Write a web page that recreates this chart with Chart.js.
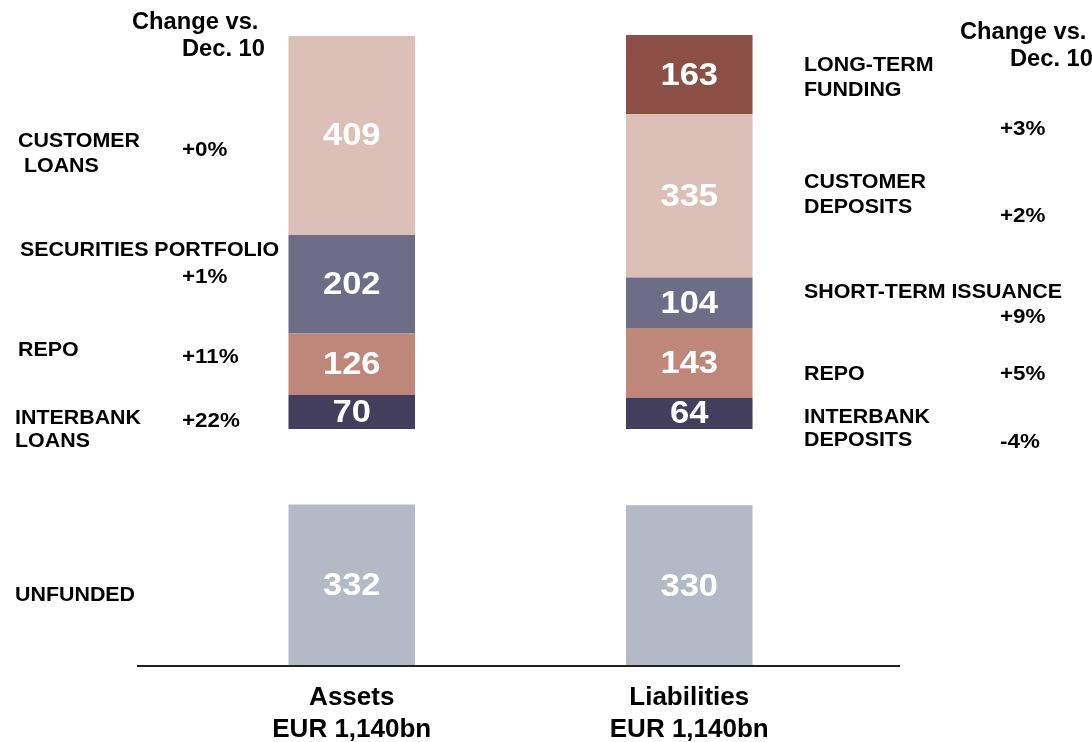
<!DOCTYPE html>
<html>
<head>
<meta charset="utf-8">
<script src="https://cdn.jsdelivr.net/npm/chart.js@4/dist/chart.umd.min.js"></script>
<style>
  html, body { margin: 0; padding: 0; background: #ffffff; overflow: hidden; }
  #wrap { width: 1092px; height: 762px; position: relative; }
</style>
</head>
<body>
<div id="wrap"><canvas id="c"></canvas></div>
<script>
// ---- data ----
const categories = ['Assets', 'Liabilities'];
const categoryTotals = ['EUR 1,140bn', 'EUR 1,140bn'];
const unfunded = [332, 330];
const interbank = [70, 64];
const repo = [126, 143];
const securitiesShortTerm = [202, 104];
const customer = [409, 335];
const longTermFunding = [null, 163];

const assetLabels = ['CUSTOMER\n LOANS', 'SECURITIES PORTFOLIO', 'REPO', 'INTERBANK\nLOANS', 'UNFUNDED'];
const assetChanges = ['+0%', '+1%', '+11%', '+22%'];
const liabilityLabels = ['LONG-TERM\nFUNDING', 'CUSTOMER\nDEPOSITS', 'SHORT-TERM ISSUANCE', 'REPO', 'INTERBANK\nDEPOSITS'];
const liabilityChanges = ['+3%', '+2%', '+9%', '+5%', '-4%'];
const changeHeader = 'Change vs.\nDec. 10';

// value (in data units) where the funded stack starts, above the unfunded bar
const FUNDED_BASE = 487;
const spacer = unfunded.map(v => FUNDED_BASE - v);

// ---- styling / layout (kept separate from data) ----
const COLORS = {
  unfunded: '#b3bac5',
  interbank: '#423e5c',
  repo: '#bf877a',
  securities: '#6e6d88',
  customer: '#dcc0b7',
  longTerm: '#8b4f45'
};
const FONT = '"Liberation Sans", Arial, Helvetica, sans-serif';

const textLayout = {
  assetLabels: [[18, 141, 166], [20, 250], [18, 350], [15, 418, 441], [15, 595]],
  assetChanges: [[182, 150], [182, 277], [182, 357], [182, 421]],
  liabilityLabels: [[804, 65, 90], [804, 182, 207], [804, 292], [804, 374], [804, 417, 440]],
  liabilityChanges: [[1000, 129], [1000, 216], [1000, 317], [1000, 374], [1000, 442]],
  headerLeft: [[132, 23], [182, 50]],
  headerRight: [[960, 33], [1010, 60]]
};

function drawText(ctx, txt, x, y, size, sx) {
  ctx.save();
  ctx.font = 'bold ' + size + 'px ' + FONT;
  ctx.fillStyle = '#000';
  ctx.textAlign = 'left';
  ctx.textBaseline = 'middle';
  ctx.translate(x, y);
  ctx.scale(sx, 1);
  ctx.fillText(txt, 0, 0);
  ctx.restore();
}

const annotationPlugin = {
  id: 'annotations',
  afterDraw(chart) {
    const ctx = chart.ctx;
    // baseline axis line
    ctx.save();
    ctx.strokeStyle = '#222';
    ctx.lineWidth = 2;
    ctx.beginPath();
    const yb = chart.scales.y.getPixelForValue(0);
    ctx.moveTo(137, yb);
    ctx.lineTo(900, yb);
    ctx.stroke();
    ctx.restore();

    const hdr = changeHeader.split('\n');
    textLayout.headerLeft.forEach((p, i) => drawText(ctx, hdr[i], p[0], p[1], 23, 1.03));
    textLayout.headerRight.forEach((p, i) => drawText(ctx, hdr[i], p[0], p[1], 23, 1.03));

    const drawLabels = (labels, layout) => {
      labels.forEach((lab, i) => {
        const lines = lab.split('\n');
        const p = layout[i];
        lines.forEach((ln, j) => drawText(ctx, ln, p[0], p[1 + j], 20, 1.07));
      });
    };
    drawLabels(assetLabels, textLayout.assetLabels);
    drawLabels(liabilityLabels, textLayout.liabilityLabels);
    assetChanges.forEach((t, i) => drawText(ctx, t, textLayout.assetChanges[i][0], textLayout.assetChanges[i][1], 20, 1.12));
    liabilityChanges.forEach((t, i) => drawText(ctx, t, textLayout.liabilityChanges[i][0], textLayout.liabilityChanges[i][1], 20, 1.12));
  },
  afterDatasetsDraw(chart) {
    const ctx = chart.ctx;
    chart.data.datasets.forEach((ds, di) => {
      if (ds.noLabel) return;
      const meta = chart.getDatasetMeta(di);
      meta.data.forEach((el, i) => {
        const v = ds.data[i];
        if (v === null || v === undefined) return;
        const cy = (el.y + el.base) / 2;
        ctx.save();
        ctx.font = 'bold 32px ' + FONT;
        ctx.fillStyle = '#ffffff';
        ctx.textAlign = 'center';
        ctx.textBaseline = 'middle';
        ctx.translate(el.x, cy + 1);
        ctx.scale(1.08, 1);
        ctx.fillText(String(v), 0, 0);
        ctx.restore();
      });
    });
  }
};

const mk = (label, data, color, extra) => Object.assign({
  label, data, backgroundColor: color, borderWidth: 0,
  categoryPercentage: 1, barPercentage: 0.375
}, extra || {});

new Chart(document.getElementById('c'), {
  type: 'bar',
  data: {
    labels: categories.map((c, i) => [c, categoryTotals[i]]),
    datasets: [
      mk('Unfunded', unfunded, COLORS.unfunded),
      mk('spacer', spacer, 'rgba(0,0,0,0)', { noLabel: true }),
      mk('Interbank', interbank, COLORS.interbank),
      mk('Repo', repo, COLORS.repo),
      mk('Securities / Short-term issuance', securitiesShortTerm, COLORS.securities),
      mk('Customer', customer, COLORS.customer),
      mk('Long-term funding', longTermFunding, COLORS.longTerm)
    ]
  },
  options: {
    responsive: true,
    maintainAspectRatio: false,
    animation: false,
    layout: { padding: { left: 183, right: 234, top: 35, bottom: 0 } },
    plugins: { legend: { display: false }, tooltip: { enabled: false } },
    scales: {
      x: {
        stacked: true,
        grid: { display: false, drawTicks: false },
        border: { display: false },
        ticks: {
          color: '#000',
          padding: 16,
          font: { family: FONT, size: 26, weight: 'bold', lineHeight: 1.23 }
        }
      },
      y: {
        stacked: true,
        display: false,
        min: 0,
        max: 1296
      }
    }
  },
  plugins: [annotationPlugin]
});
</script>
</body>
</html>
